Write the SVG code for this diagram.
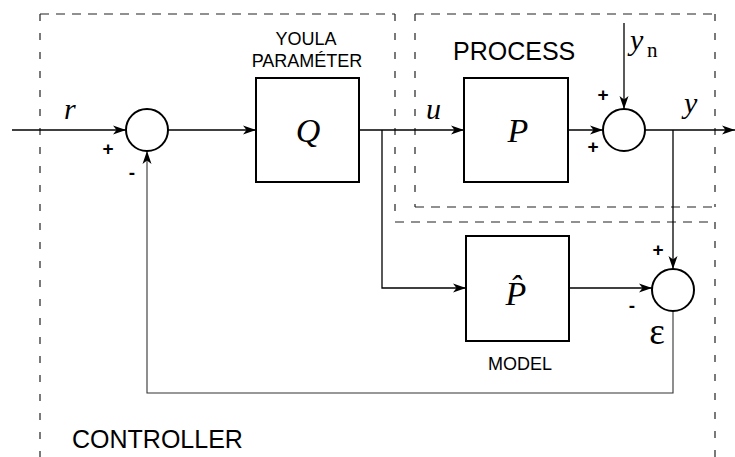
<svg xmlns="http://www.w3.org/2000/svg" width="735" height="457" viewBox="0 0 735 457">
<style>
.box{fill:none;stroke:#000;stroke-width:2}
.sum{fill:#fff;stroke:#000;stroke-width:2}
.wire{fill:none;stroke:#000;stroke-width:1.3}
.fb{fill:none;stroke:#333;stroke-width:1.1}
.dh{fill:none;stroke:#222;stroke-width:1.2;stroke-dasharray:9 7}
.dv{fill:none;stroke:#222;stroke-width:1.2;stroke-dasharray:7 12}
.lab{font-family:"Liberation Sans",Arial,sans-serif;fill:#000}
.math{font-family:"Liberation Serif","Times New Roman",serif;font-style:italic;fill:#000}
.rom{font-family:"Liberation Serif","Times New Roman",serif;fill:#000}
.sign{font-family:"Liberation Sans",Arial,sans-serif;font-weight:bold;font-size:19px;fill:#000;text-anchor:middle}
</style>
<defs>
<marker id="arr" markerWidth="14" markerHeight="10" refX="13" refY="5" orient="auto" markerUnits="userSpaceOnUse">
<path d="M0,0.5 L13,5 L0,9.5 L3.5,5 z" fill="#000"/>
</marker>
</defs>
<g id="boundaries">
<line class="dv" x1="40" y1="14" x2="40" y2="457"/>
<line class="dh" x1="40" y1="14" x2="395" y2="14"/>
<line class="dv" x1="395" y1="14" x2="395" y2="219"/>
<line class="dh" x1="395" y1="222" x2="715" y2="222"/>
<line class="dv" x1="715" y1="222" x2="715" y2="457"/>
<line class="dh" x1="415" y1="14" x2="715" y2="14"/>
<line class="dv" x1="415" y1="14" x2="415" y2="207"/>
<line class="dv" x1="715" y1="14" x2="715" y2="207"/>
<line class="dh" x1="415" y1="207" x2="715" y2="207"/>
</g>
<g id="connectors">
<line class="wire" x1="12" y1="130" x2="126" y2="130" marker-end="url(#arr)"/>
<line class="wire" x1="168" y1="130" x2="256" y2="130" marker-end="url(#arr)"/>
<line class="wire" x1="359" y1="130" x2="464" y2="130" marker-end="url(#arr)"/>
<polyline class="wire" points="382,130 382,288 466,288" marker-end="url(#arr)"/>
<line class="wire" x1="568" y1="130" x2="603" y2="130" marker-end="url(#arr)"/>
<line class="wire" x1="624" y1="23" x2="624" y2="109" marker-end="url(#arr)"/>
<line class="wire" x1="645" y1="130" x2="735" y2="130" marker-end="url(#arr)"/>
<line class="wire" x1="673" y1="130" x2="673" y2="269" marker-end="url(#arr)"/>
<line class="wire" x1="569" y1="288" x2="652" y2="288" marker-end="url(#arr)"/>
<polyline class="fb" points="673,311 673,393 147,393 147,151" marker-end="url(#arr)"/>
</g>
<g id="sum1">
<circle class="sum" cx="147" cy="130" r="21"/>
<text class="sign" x="108" y="155">+</text>
<text class="sign" x="132" y="179">-</text>
</g>
<g id="Q">
<rect class="box" x="256" y="78" width="103" height="104"/>
<text class="math" x="308" y="142" font-size="34" text-anchor="middle">Q</text>
<text class="lab" x="306" y="45" font-size="18" text-anchor="middle">YOULA</text>
<text class="lab" x="307" y="67" font-size="18" text-anchor="middle">PARAMÉTER</text>
</g>
<g id="P">
<rect class="box" x="464" y="78" width="104" height="104"/>
<text class="math" x="518" y="142" font-size="34" text-anchor="middle">P</text>
<text class="lab" x="453" y="60" font-size="25">PROCESS</text>
</g>
<g id="sum2">
<circle class="sum" cx="624" cy="130" r="21"/>
<text class="sign" x="603" y="101">+</text>
<text class="sign" x="593" y="153">+</text>
</g>
<g id="Phat">
<rect class="box" x="466" y="236" width="103" height="105"/>
<text class="math" x="516" y="305" font-size="34" text-anchor="middle">P̂</text>
<text class="lab" x="520" y="370" font-size="18" text-anchor="middle">MODEL</text>
</g>
<g id="sum3">
<circle class="sum" cx="673" cy="290" r="21"/>
<text class="sign" x="658" y="256">+</text>
<text class="sign" x="632" y="312">-</text>
<text class="rom" x="657" y="344" font-size="37" text-anchor="middle">ε</text>
</g>
<g id="labels">
<text class="math" x="64" y="119" font-size="30">r</text>
<text class="math" x="426" y="119" font-size="30">u</text>
<text class="math" x="630" y="50" font-size="30">y</text>
<text class="rom" x="647" y="57" font-size="21">n</text>
<text class="math" x="684" y="113" font-size="30">y</text>
<text class="lab" x="72" y="448" font-size="25">CONTROLLER</text>
</g>
</svg>
